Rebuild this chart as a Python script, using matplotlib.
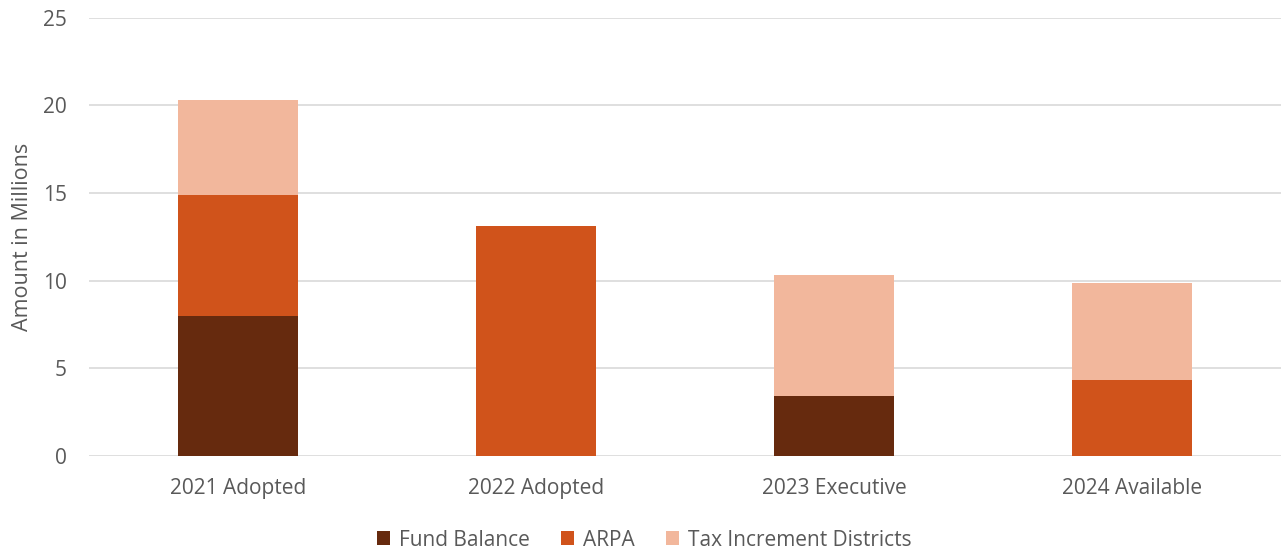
import matplotlib
matplotlib.use("Agg")
import matplotlib.pyplot as plt
import numpy as np

categories = ["2021 Adopted", "2022 Adopted", "2023 Executive", "2024 Available"]
fund_balance = [8.0, 0.0, 3.4, 0.0]
arpa = [6.9, 13.1, 0.0, 4.35]
tid = [5.4, 0.0, 6.9, 5.5]
series_names = ["Fund Balance", "ARPA", "Tax Increment Districts"]
colors = ["#662a0e", "#d0531b", "#f2b79c"]

plt.rcParams['font.family'] = ['Open Sans', 'DejaVu Sans']
text_color = "#595959"

fig = plt.figure(figsize=(12.81, 5.54), dpi=100)
ax = fig.add_axes([89/1281, 98/554, (1281-89)/1281, (456-17.5)/554])

x = np.arange(len(categories))
bottom = np.zeros(len(categories))
for vals, name, c in zip([fund_balance, arpa, tid], series_names, colors):
    v = np.array(vals)
    ax.bar(x, v, width=0.4, bottom=bottom, color=c, label=name, zorder=3)
    bottom += v

ax.set_xlim(-0.5, len(categories) - 0.5)
ax.set_ylim(0, 25)
ax.set_yticks([0, 5, 10, 15, 20, 25])
ax.set_xticks(x)
ax.set_xticklabels(categories)
ax.yaxis.grid(True, color="#d9d9d9", linewidth=1.2, zorder=0)
for s in ax.spines.values():
    s.set_visible(False)
ax.tick_params(axis='both', length=0, labelsize=15, colors=text_color)
ax.tick_params(axis='x', pad=16)
ax.tick_params(axis='y', pad=16)
ax.set_ylabel("Amount in Millions", fontsize=15.5, color=text_color, labelpad=7)

handles, labels = ax.get_legend_handles_labels()
leg = fig.legend(handles, labels, loc='center', bbox_to_anchor=(644/1281, 1 - 540/554), ncol=3,
                 frameon=False, fontsize=15, handlelength=0.65, handleheight=0.65,
                 columnspacing=1.5, handletextpad=0.4)
for t in leg.get_texts():
    t.set_color(text_color)

fig.savefig("out.png", dpi=100)
